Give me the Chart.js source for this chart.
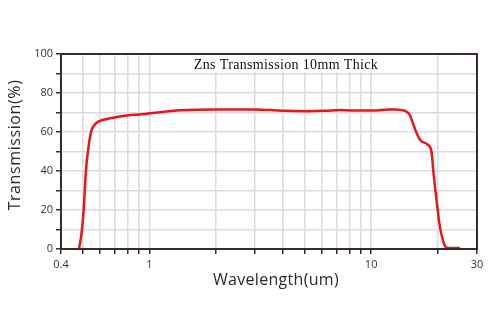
<!DOCTYPE html>
<html>
<head>
<meta charset="utf-8">
<script src="https://cdn.jsdelivr.net/npm/chart.js@4"></script>
<style>
  html, body { margin: 0; padding: 0; background: #fff; }
  #wrap { width: 500px; height: 334px; }
</style>
</head>
<body>
<div id="wrap"><canvas id="c" width="500" height="334"></canvas></div>
<script>
// ZnS transmission spectrum, 10 mm thickness
const wavelength = [0.482, 0.495, 0.506, 0.518, 0.529, 0.546, 0.565, 0.591, 0.65, 0.715,
  0.85, 0.977, 1.38, 2.0, 2.94, 4.0, 5.1, 6.2, 7.2, 8.3, 10.2, 12.0, 13.0, 14.2, 14.9,
  15.7, 16.6, 18.0, 18.7, 19.1, 19.7, 20.4, 21.4, 22.2, 25.1];
const transmission = [0, 8, 20, 40, 50, 60, 63.5, 65.4, 66.8, 67.7,
  68.8, 69.4, 71.1, 71.6, 71.6, 70.9, 70.7, 70.9, 71.3, 71.0, 71.0, 71.6, 71.5, 70.9, 68.9,
  62, 56, 53.5, 50, 39, 25.3, 11.6, 2.2, 0.5, 0.5];

// Log-axis grid positions and which of them carry a label
const xGrid = [0.4, 0.5, 0.6, 0.7, 0.8, 0.9, 1, 2, 3, 4, 5, 6, 7, 8, 9, 10, 20, 30];
const xLabels = [0.4, 1, 10, 30];
const yLabels = [0, 20, 40, 60, 80, 100];

const chartTitle = 'Zns Transmission 10mm Thick';
const xTitle = 'Wavelength(um)';
const yTitle = 'Transmission(%)';

const AXIS = '#3a2b27';
const GRID = '#dcdcdc';
const RED = '#e8161c';

const decorPlugin = {
  id: 'decor',
  beforeDatasetsDraw(chart) {
    const { ctx, chartArea: a } = chart;
    ctx.save();
    // title panel inside the plot
    const x1 = chart.scales.x.getPixelForValue(1) + 2;
    const x2 = chart.scales.x.getPixelForValue(20) - 2;
    ctx.fillStyle = '#fff';
    ctx.fillRect(x1, a.top + 1, x2 - x1, 17);
    ctx.fillStyle = '#111';
    ctx.font = '14px "Liberation Serif", "Times New Roman", serif';
    ctx.letterSpacing = '0.35px';
    ctx.textAlign = 'center';
    ctx.textBaseline = 'middle';
    ctx.fillText(chartTitle, 286, a.top + 11);
    ctx.restore();
  },
  afterDraw(chart) {
    const { ctx, chartArea: a } = chart;
    ctx.save();
    ctx.strokeStyle = AXIS;
    ctx.lineWidth = 2;
    ctx.strokeRect(a.left, a.top, a.right - a.left, a.bottom - a.top);
    // axis titles
    ctx.fillStyle = '#2a2a2a';
    ctx.font = '16px "Open Sans", sans-serif';
    ctx.textAlign = 'center';
    ctx.textBaseline = 'middle';
    ctx.letterSpacing = '0.3px';
    ctx.fillText(xTitle, 276, 280);
    ctx.letterSpacing = '0.6px';
    ctx.translate(15, 145);
    ctx.rotate(-Math.PI / 2);
    ctx.fillText(yTitle, 0, 0);
    ctx.restore();
  }
};

new Chart(document.getElementById('c'), {
  type: 'line',
  data: {
    datasets: [{
      data: wavelength.map((w, i) => ({ x: w, y: transmission[i] })),
      borderColor: RED,
      borderWidth: 2.5,
      pointRadius: 0,
      fill: false,
      cubicInterpolationMode: 'monotone'
    }]
  },
  options: {
    responsive: false,
    animation: false,
    events: [],
    layout: { padding: { top: 54, right: 23, left: 1, bottom: 0 } },
    plugins: { legend: { display: false }, tooltip: { enabled: false } },
    scales: {
      x: {
        type: 'logarithmic',
        min: 0.4,
        max: 30,
        afterBuildTicks(scale) {
          scale.ticks = xGrid.map(v => ({ value: v }));
        },
        afterFit(scale) { scale.height = 85; },
        grid: { color: GRID, lineWidth: 1.5, tickColor: AXIS, tickLength: 5, tickWidth: 1.5 },
        border: { color: AXIS, width: 2 },
        ticks: {
          autoSkip: false,
          maxRotation: 0,
          padding: 4,
          color: '#333',
          font: { family: '"Open Sans", sans-serif', size: 11 },
          callback: (v) => xLabels.includes(v) ? String(v) : ''
        }
      },
      y: {
        min: 0,
        max: 100,
        afterFit(scale) { scale.width = 60; },
        grid: { color: GRID, lineWidth: 1.5, tickColor: AXIS, tickLength: 5, tickWidth: 1.5 },
        border: { color: AXIS, width: 2 },
        ticks: {
          stepSize: 10,
          padding: 3,
          color: '#333',
          font: { family: '"Open Sans", sans-serif', size: 11 },
          callback: (v) => yLabels.includes(v) ? String(v) : ''
        }
      }
    }
  },
  plugins: [decorPlugin]
});
</script>
</body>
</html>
